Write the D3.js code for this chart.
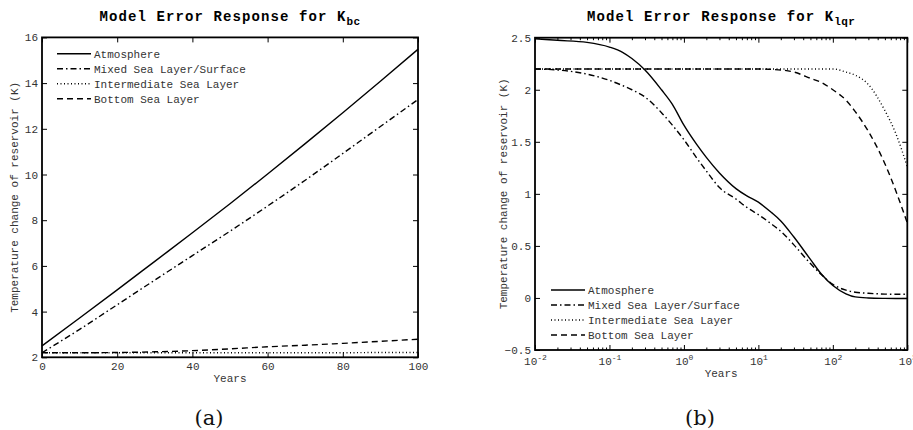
<!DOCTYPE html>
<html>
<head>
<meta charset="utf-8">
<script src="https://cdn.jsdelivr.net/npm/d3@7"></script>
<style>
  body { margin: 0; background: #fff; }
  svg { display: block; }
  .tick text { font-family: "Liberation Mono", monospace; font-size: 11px; fill: #333; }
  .tick line { stroke: #000; stroke-width: 1; }
  .domain { display: none; }
  .label { font-family: "Liberation Mono", monospace; font-size: 11px; fill: #333; }
  .title { font-family: "Liberation Mono", monospace; font-size: 14px; font-weight: bold; letter-spacing: 1.1px; fill: #000; }
  .caption { font-family: "DejaVu Serif", serif; font-size: 21px; fill: #111; }
</style>
</head>
<body>
<svg id="chart" width="913" height="430"></svg>
<script>
// ---- panel (a): linear years ----
var yearsA = [0, 10, 20, 30, 40, 50, 60, 70, 80, 90, 100];
var atmA   = [2.5, 3.72, 4.95, 6.2, 7.45, 8.72, 10.02, 11.35, 12.7, 14.08, 15.48];
var mixedA = [2.2, 3.22, 4.3, 5.38, 6.45, 7.52, 8.62, 9.75, 10.92, 12.1, 13.28];
var interA = [2.2, 2.2, 2.2, 2.2, 2.2, 2.2, 2.2, 2.2, 2.2, 2.21, 2.21];
var bottomA = [2.2, 2.2, 2.21, 2.24, 2.29, 2.37, 2.46, 2.53, 2.61, 2.7, 2.79];
var xTicksA = [0, 20, 40, 60, 80, 100];
var yTicksA = [2, 4, 6, 8, 10, 12, 14, 16];

// ---- panel (b): log years ----
var yearsB  = [0.01, 0.02, 0.05, 0.1, 0.15, 0.2, 0.3, 0.5, 0.7, 1, 1.5, 2, 3, 5, 7, 10, 15, 20, 30, 50, 70, 100, 150, 200, 300, 500, 700, 1000];
var atmB    = [2.49, 2.475, 2.455, 2.41, 2.36, 2.3, 2.19, 2.0, 1.86, 1.66, 1.47, 1.35, 1.2, 1.05, 0.98, 0.92, 0.82, 0.74, 0.585, 0.37, 0.23, 0.12, 0.04, 0.01, 0, -0.004, -0.005, -0.005];
var mixedB  = [2.2, 2.19, 2.15, 2.09, 2.04, 2.0, 1.93, 1.78, 1.66, 1.52, 1.34, 1.22, 1.06, 0.95, 0.87, 0.8, 0.71, 0.64, 0.51, 0.33, 0.225, 0.13, 0.075, 0.055, 0.045, 0.037, 0.035, 0.035];
var interB  = [2.2, 2.2, 2.2, 2.2, 2.2, 2.2, 2.2, 2.2, 2.2, 2.2, 2.2, 2.2, 2.2, 2.2, 2.2, 2.2, 2.2, 2.2, 2.2, 2.2, 2.2, 2.2, 2.17, 2.14, 2.05, 1.8, 1.58, 1.26];
var bottomB = [2.2, 2.2, 2.2, 2.2, 2.2, 2.2, 2.2, 2.2, 2.2, 2.2, 2.2, 2.2, 2.2, 2.2, 2.2, 2.2, 2.195, 2.19, 2.17, 2.11, 2.07, 2.0, 1.9, 1.79, 1.6, 1.29, 1.03, 0.72];
var xTicksB = [0.01, 0.1, 1, 10, 100, 1000];
var yTicksB = [-0.5, 0, 0.5, 1, 1.5, 2, 2.5];

var seriesNames = ["Atmosphere", "Mixed Sea Layer/Surface", "Intermediate Sea Layer", "Bottom Sea Layer"];
var dashes = [null, "6,3,1.5,3", "1,2.5", "6,4"];

var svg = d3.select("#chart");

function panel(opt) {
    var g = svg.append("g");
    var x = opt.x, y = opt.y;
    var x0 = x.range()[0], x1 = x.range()[1];
    var y0 = y.range()[0], y1 = y.range()[1];

    // minor ticks (log panel only)
    if (opt.minor) {
        g.append("g").attr("transform", "translate(0," + y0 + ")")
            .call(d3.axisBottom(x).tickValues(opt.minor).tickSize(-2.5).tickFormat(""));
        g.append("g").attr("transform", "translate(0," + y1 + ")")
            .call(d3.axisTop(x).tickValues(opt.minor).tickSize(-2.5).tickFormat(""));
    }

    var xb = g.append("g").attr("transform", "translate(0," + y0 + ")")
        .call(d3.axisBottom(x).tickValues(opt.xTicks).tickSize(-5).tickPadding(opt.log ? 7 : 5).tickFormat(opt.xFormat || d3.format("d")));
    g.append("g").attr("transform", "translate(0," + y1 + ")")
        .call(d3.axisTop(x).tickValues(opt.xTicks).tickSize(-5).tickFormat(""));
    g.append("g").attr("transform", "translate(" + x0 + ",0)")
        .call(d3.axisLeft(y).tickValues(opt.yTicks).tickSize(-5).tickPadding(4).tickFormat(d3.format("~g")));
    g.append("g").attr("transform", "translate(" + x1 + ",0)")
        .call(d3.axisRight(y).tickValues(opt.yTicks).tickSize(-5).tickFormat(""));

    if (opt.log) {
        xb.selectAll(".tick text").each(function(d) {
            var t = d3.select(this).text("10");
            t.append("tspan").attr("dy", "-5").attr("font-size", "8px")
                .text(String(Math.round(Math.log10(d))));
        });
    }

    g.append("rect")
        .attr("x", x0).attr("y", y1)
        .attr("width", x1 - x0).attr("height", y0 - y1)
        .attr("fill", "none").attr("stroke", "#000").attr("stroke-width", 1.8);

    var line = d3.line()
        .x(function(d) { return x(d[0]); })
        .y(function(d) { return y(d[1]); })
        .curve(d3.curveMonotoneX);

    opt.series.forEach(function(vals, i) {
        g.append("path")
            .datum(opt.years.map(function(t, j) { return [t, vals[j]]; }))
            .attr("d", line)
            .attr("fill", "none")
            .attr("stroke", "#000")
            .attr("stroke-width", 1.4)
            .attr("stroke-dasharray", dashes[i]);
    });

    // legend
    var lg = g.append("g").attr("transform", "translate(" + opt.legend[0] + "," + opt.legend[1] + ")");
    seriesNames.forEach(function(name, i) {
        lg.append("line")
            .attr("x1", 0).attr("x2", 34).attr("y1", i * 15).attr("y2", i * 15)
            .attr("stroke", "#000").attr("stroke-width", 1.5)
            .attr("stroke-dasharray", dashes[i]);
        lg.append("text").attr("class", "label")
            .attr("x", 37).attr("y", i * 15 + 4).text(name);
    });

    // titles
    var cx = (x0 + x1) / 2;
    var title = g.append("text").attr("class", "title")
        .attr("x", cx).attr("y", 21).attr("text-anchor", "middle")
        .text("Model Error Response for K");
    title.append("tspan").attr("dy", 4).attr("font-size", "11px").attr("letter-spacing", "0.4px").text(opt.sub);

    g.append("text").attr("class", "label")
        .attr("x", cx).attr("y", opt.yearsY).attr("text-anchor", "middle").text("Years");

    g.append("text").attr("class", "label")
        .attr("transform", "translate(" + opt.ylabX + "," + ((y0 + y1) / 2) + ") rotate(-90)")
        .attr("text-anchor", "middle")
        .text("Temperature change of reservoir (K)");

    svg.append("text").attr("class", "caption")
        .attr("x", opt.capX).attr("y", 425).attr("text-anchor", "middle").text(opt.caption);
}

panel({
    x: d3.scaleLinear().domain([0, 100]).range([42, 418]),
    y: d3.scaleLinear().domain([2, 16]).range([357.3, 37.4]),
    xTicks: xTicksA, yTicks: yTicksA,
    years: yearsA, series: [atmA, mixedA, interA, bottomA],
    legend: [57, 53.7], sub: "bc", yearsY: 382, ylabX: 18,
    capX: 209, caption: "(a)"
});

var minorB = [];
[0.01, 0.1, 1, 10, 100].forEach(function(p) {
    for (var k = 2; k <= 9; k++) minorB.push(p * k);
});

panel({
    x: d3.scaleLog().domain([0.01, 1000]).range([535, 907.3]),
    y: d3.scaleLinear().domain([-0.5, 2.5]).range([350, 37.7]),
    xTicks: xTicksB, yTicks: yTicksB, minor: minorB, log: true,
    years: yearsB, series: [atmB, mixedB, interB, bottomB],
    legend: [551, 290], sub: "lqr", yearsY: 377, ylabX: 507,
    capX: 700, caption: "(b)"
});
</script>
</body>
</html>
